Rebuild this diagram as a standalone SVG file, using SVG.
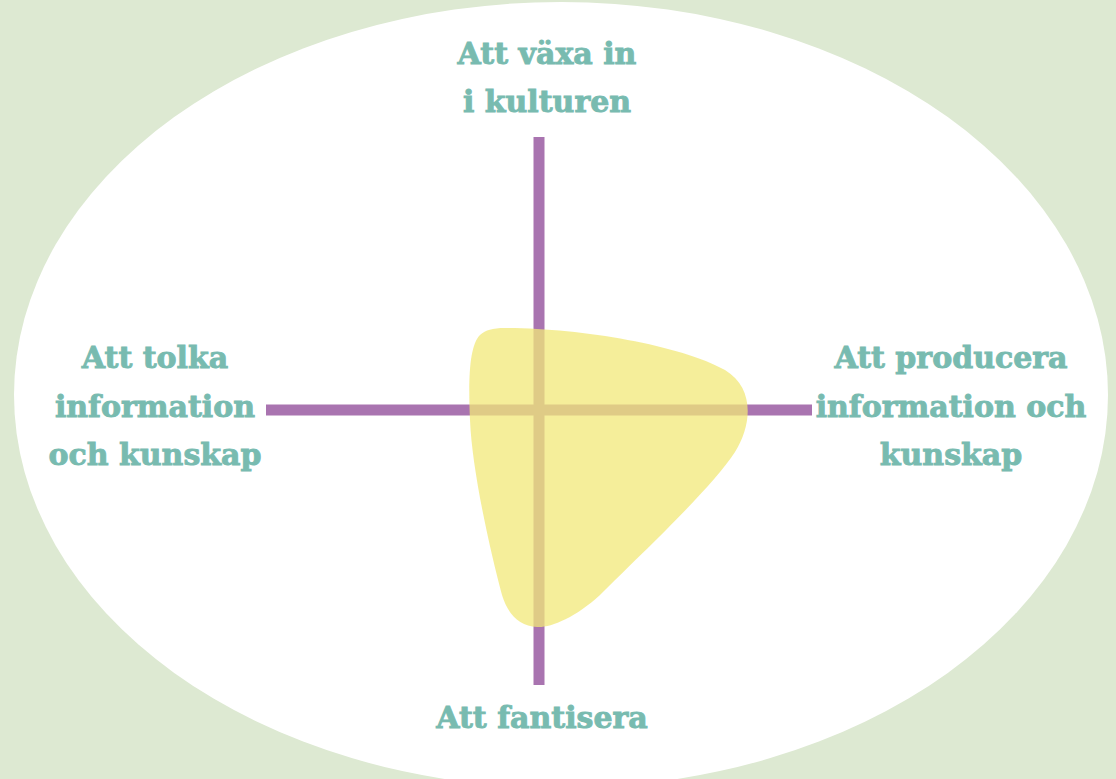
<svg xmlns="http://www.w3.org/2000/svg" width="1116" height="779" viewBox="0 0 1116 779">
<style>
.lbl{font-family:"DejaVu Serif","Liberation Serif",serif;font-weight:bold;font-size:30px;fill:#78bbb0;stroke:#78bbb0;stroke-width:0.9;text-anchor:middle}
.axis{stroke:#a974b0;stroke-width:11;fill:none}
</style>
<rect width="1116" height="779" fill="#dde9d2"/>
<ellipse cx="561" cy="395" rx="547" ry="393" fill="#ffffff"/>
<g id="connectors">
<line class="axis" x1="539" y1="137" x2="539" y2="685"/>
<line class="axis" x1="266" y1="410" x2="812" y2="410"/>
</g>
<g id="blob">
<path d="M505,328 C580,328 680,345 725,370 C755,388 752,425 735,452 C710,490 640,555 600,595 C575,618 550,628 537,627 C520,626 508,615 502,595 C490,550 472,470 470,420 C468,375 470,345 480,335 C486,330 492,328 505,328 Z" fill="#f2e878" fill-opacity="0.75"/>
</g>
<g id="top"><text class="lbl" x="547" y="64">Att växa in</text><text class="lbl" x="547" y="112">i kulturen</text></g>
<g id="left"><text class="lbl" x="155" y="368">Att tolka</text><text class="lbl" x="155" y="417">information</text><text class="lbl" x="155" y="465">och kunskap</text></g>
<g id="right"><text class="lbl" x="951" y="368">Att producera</text><text class="lbl" x="951" y="417">information och</text><text class="lbl" x="951" y="465">kunskap</text></g>
<g id="bottom"><text class="lbl" x="542" y="728">Att fantisera</text></g>
</svg>
